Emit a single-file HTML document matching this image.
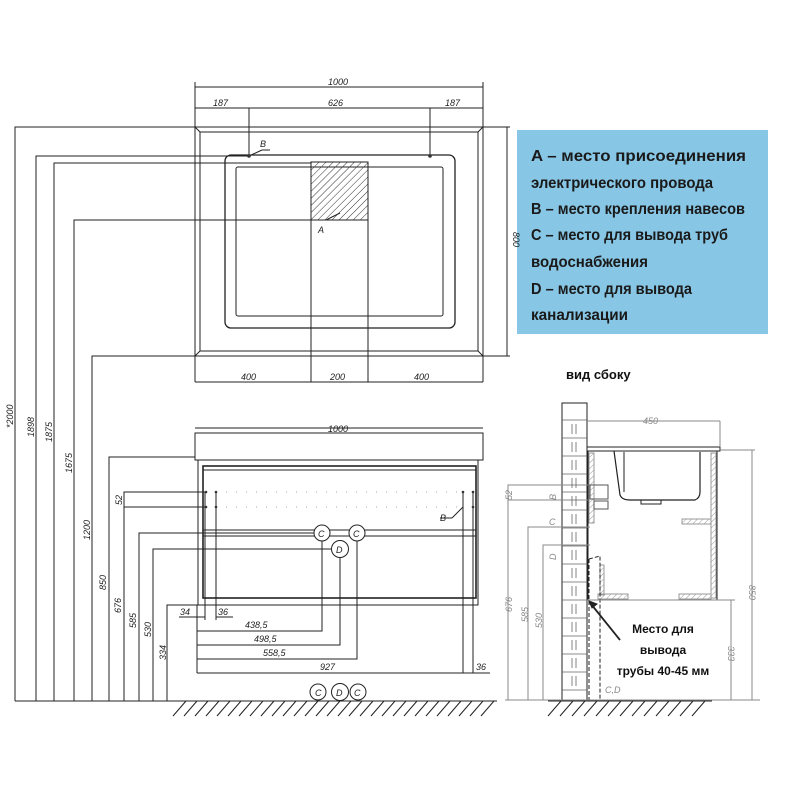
<!DOCTYPE html>
<html><head><meta charset="utf-8"><style>
html,body{margin:0;padding:0;background:#fff}
svg{display:block}
text{font-family:"Liberation Sans",sans-serif}
.d{font-size:9px;font-style:italic;fill:#222}
.b{font-size:16px;font-weight:bold;fill:#1a1a1a}
</style></head><body>
<svg width="792" height="792" viewBox="0 0 792 792" xmlns="http://www.w3.org/2000/svg">
<defs>
<pattern id="h" width="5" height="5" patternUnits="userSpaceOnUse" patternTransform="rotate(45)">
<line x1="0" y1="0" x2="0" y2="5" stroke="#333" stroke-width="1"/></pattern>
<pattern id="h2" width="4" height="4" patternUnits="userSpaceOnUse" patternTransform="rotate(45)">
<line x1="0" y1="0" x2="0" y2="4" stroke="#999" stroke-width="1"/></pattern>
</defs>
<rect width="792" height="792" fill="#fff"/>
<g stroke="#222" stroke-width="1" fill="none">
<rect x="195" y="127" width="288" height="229"/>
<rect x="200" y="132" width="278" height="219"/>
<line x1="195" y1="127" x2="200" y2="132"/><line x1="483" y1="127" x2="478" y2="132"/>
<line x1="195" y1="356" x2="200" y2="351"/><line x1="483" y1="356" x2="478" y2="351"/>
<rect x="225" y="155" width="230" height="173" rx="6" stroke-width="1.3"/>
<rect x="236" y="167" width="207" height="149" rx="2"/>
<rect x="311" y="162" width="57" height="58" fill="url(#h)"/>
<line x1="311" y1="220" x2="311" y2="382"/><line x1="368" y1="220" x2="368" y2="382"/>
<line x1="195" y1="82" x2="195" y2="127"/><line x1="483" y1="82" x2="483" y2="127"/>
<line x1="195" y1="87" x2="483" y2="87"/><line x1="195" y1="108" x2="483" y2="108"/>
<line x1="249" y1="108" x2="249" y2="156"/><line x1="430" y1="108" x2="430" y2="156"/>
<line x1="249" y1="156" x2="262" y2="150"/><line x1="262" y1="150" x2="270" y2="150"/>
<line x1="326" y1="220" x2="340" y2="213"/>
<line x1="195" y1="356" x2="195" y2="382"/><line x1="483" y1="356" x2="483" y2="382"/>
<line x1="195" y1="382" x2="483" y2="382"/>
<line x1="483" y1="127" x2="510" y2="127"/><line x1="483" y1="356" x2="510" y2="356"/>
<line x1="507" y1="127" x2="507" y2="356"/>
<polyline points="15,701 15,127 195,127"/>
<polyline points="36,701 36,156 249,156"/>
<polyline points="54,701 54,163 311,163"/>
<polyline points="74,701 74,220 311,220"/>
<polyline points="92,701 92,356 195,356"/>
<polyline points="109,701 109,457 195,457"/>
<polyline points="124,701 124,492 205,492"/>
<line x1="124" y1="507" x2="205" y2="507"/>
<polyline points="139,701 139,533 314,533"/>
<polyline points="153,701 153,549 332,549"/>
<polyline points="167,701 167,605 198,605"/>
<rect x="195" y="433" width="288" height="27"/>
<line x1="195" y1="428" x2="483" y2="428"/>
<rect x="198" y="460" width="280" height="145"/>
<rect x="203" y="466" width="273" height="132" stroke-width="1.6"/>
<line x1="203" y1="470" x2="476" y2="470"/>
<line x1="203" y1="530" x2="476" y2="530"/><line x1="203" y1="536" x2="476" y2="536"/>
<line x1="205" y1="492" x2="205" y2="620"/><line x1="216" y1="492" x2="216" y2="620"/>
<line x1="463" y1="492" x2="463" y2="673"/><line x1="473" y1="492" x2="473" y2="673"/>
<line x1="463" y1="507" x2="452" y2="518"/><line x1="452" y1="518" x2="440" y2="518"/>
<line x1="179" y1="617" x2="205" y2="617"/><line x1="216" y1="617" x2="233" y2="617"/>
<line x1="197" y1="605" x2="197" y2="673"/>
<polyline points="197,631 322,631 322,541"/>
<polyline points="197,645 340,645 340,557"/>
<polyline points="197,659 357,659 357,541"/>
<line x1="197" y1="673" x2="490" y2="673"/>
<line x1="15" y1="701" x2="497" y2="701"/>
<g fill="#fff"><circle cx="322" cy="533" r="8"/><circle cx="357" cy="533" r="8"/><circle cx="340" cy="549" r="8.5"/>
<circle cx="318" cy="692" r="8"/><circle cx="340" cy="692" r="8.5"/><circle cx="358" cy="692" r="8"/></g>
<rect x="562" y="403" width="25" height="297"/>
<rect x="587" y="447" width="133" height="4"/>
<rect x="588" y="451" width="129" height="149"/>
<rect x="589" y="453" width="5" height="70" fill="url(#h2)" stroke="#999"/>
<rect x="711" y="453" width="5" height="145" fill="url(#h2)" stroke="#999"/>
<rect x="682" y="519" width="29" height="5" fill="url(#h2)" stroke="#999"/>
<rect x="598" y="594" width="30" height="5" fill="url(#h2)" stroke="#999"/>
<rect x="679" y="594" width="32" height="5" fill="url(#h2)" stroke="#999"/>
<rect x="600" y="565" width="4" height="30" fill="url(#h2)" stroke="#999"/>
<path d="M614 451 L620 495 Q622 500 630 500 L695 500 Q700 498 700 492 L700 452" stroke-width="1.2"/>
<line x1="624" y1="452" x2="624" y2="492"/>
<rect x="641" y="500" width="20" height="4"/>
<rect x="590" y="485" width="18" height="14" stroke="#555"/>
<rect x="594" y="501" width="14" height="8" stroke="#555"/>
<path d="M589 559 L600 556 L600 700" stroke-dasharray="4 2"/>
<line x1="589" y1="559" x2="589" y2="700" stroke-dasharray="4 2"/>
<line x1="587" y1="600" x2="735" y2="600" stroke="#888"/>
<line x1="587" y1="421" x2="720" y2="421" stroke="#888"/>
<line x1="720" y1="421" x2="720" y2="447" stroke="#888"/>
<line x1="720" y1="450" x2="755" y2="450" stroke="#888"/>
<line x1="752" y1="450" x2="752" y2="700" stroke="#888"/>
<line x1="731" y1="600" x2="731" y2="700" stroke="#888"/>
<g stroke="#888">
<polyline points="508,700 508,485 588,485"/><line x1="508" y1="500" x2="588" y2="500"/>
<polyline points="528,700 528,527 590,527"/>
<polyline points="543,700 543,545 590,545"/>
<line x1="505" y1="700" x2="760" y2="700"/>
</g>
<line x1="620" y1="640" x2="591" y2="604" stroke-width="1.8"/>
<path d="M589 601 L597 604 L592 608 Z" fill="#222"/>
</g>
<g stroke="#666" stroke-width="0.8" fill="none">
<path d="M562 420h25M562 438h25M562 456h25M562 474h25M562 492h25M562 510h25M562 528h25M562 546h25M562 564h25M562 582h25M562 600h25M562 618h25M562 636h25M562 654h25M562 672h25M562 690h25"/>
<path d="M572 424v10M576 424v10M572 442v10M576 442v10M572 460v10M576 460v10M572 478v10M576 478v10M572 496v10M576 496v10M572 514v10M576 514v10M572 532v10M576 532v10M572 550v10M576 550v10M572 568v10M576 568v10M572 586v10M576 586v10M572 604v10M576 604v10M572 622v10M576 622v10M572 640v10M576 640v10M572 658v10M576 658v10M572 676v10M576 676v10"/>
</g>
<g fill="#333">
<circle cx="206" cy="492" r="1.3"/><circle cx="216" cy="492" r="1.3"/><circle cx="463" cy="492" r="1.3"/><circle cx="473" cy="492" r="1.3"/>
<circle cx="206" cy="507" r="1.3"/><circle cx="216" cy="507" r="1.3"/><circle cx="473" cy="507" r="1.3"/>
<circle cx="249" cy="156" r="1.8"/><circle cx="430" cy="156" r="1.8"/>
</g>
<g stroke="#bbb" stroke-dasharray="1 9" stroke-width="1.3"><line x1="226" y1="492" x2="460" y2="492"/><line x1="226" y1="507" x2="460" y2="507"/></g>
<g stroke="#222" stroke-width="1">
<path d="M173 716l13-15M184 716l13-15M195 716l13-15M206 716l13-15M217 716l13-15M228 716l13-15M239 716l13-15M250 716l13-15M261 716l13-15M272 716l13-15M283 716l13-15M294 716l13-15M305 716l13-15M316 716l13-15M327 716l13-15M338 716l13-15M349 716l13-15M360 716l13-15M371 716l13-15M382 716l13-15M393 716l13-15M404 716l13-15M415 716l13-15M426 716l13-15M437 716l13-15M448 716l13-15M459 716l13-15M470 716l13-15M481 716l13-15"/>
<path d="M548 716l13-15M560 716l13-15M572 716l13-15M584 716l13-15M596 716l13-15M608 716l13-15M620 716l13-15M632 716l13-15M644 716l13-15M656 716l13-15M668 716l13-15M680 716l13-15M692 716l13-15"/>
<line x1="548" y1="701" x2="712" y2="701"/>
</g>
<rect x="517" y="130" width="251" height="204" fill="#87c6e5"/>
<text class="b" x="531" y="161" textLength="215" lengthAdjust="spacingAndGlyphs">A – место присоединения</text>
<text class="b" x="531" y="188" textLength="182" lengthAdjust="spacingAndGlyphs">электрического провода</text>
<text class="b" x="531" y="214" textLength="214" lengthAdjust="spacingAndGlyphs">B – место крепления навесов</text>
<text class="b" x="531" y="240" textLength="197" lengthAdjust="spacingAndGlyphs">C – место для вывода труб</text>
<text class="b" x="531" y="267" textLength="117" lengthAdjust="spacingAndGlyphs">водоснабжения</text>
<text class="b" x="531" y="294" textLength="161" lengthAdjust="spacingAndGlyphs">D – место для вывода</text>
<text class="b" x="531" y="320" textLength="97" lengthAdjust="spacingAndGlyphs">канализации</text>
<g class="d">
<text x="328" y="85">1000</text><text x="213" y="106">187</text><text x="328" y="106">626</text><text x="445" y="106">187</text>
<text x="260" y="147">B</text><text x="318" y="233">A</text>
<text x="241" y="380">400</text><text x="330" y="380">200</text><text x="414" y="380">400</text>
<text x="328" y="432">1000</text>
<text x="440" y="521">B</text>
<text x="180" y="615">34</text><text x="218" y="615">36</text>
<text x="245" y="628">438,5</text><text x="254" y="642">498,5</text><text x="263" y="656">558,5</text>
<text x="320" y="670">927</text><text x="476" y="670">36</text>
<text x="315" y="696">C</text><text x="336" y="696">D</text><text x="354" y="696">C</text>
<text x="318" y="537">C</text><text x="353" y="537">C</text><text x="336" y="553">D</text>
<text transform="translate(513,232) rotate(90)">800</text>
<text transform="translate(13,428) rotate(-90)">*2000</text>
<text transform="translate(34,437) rotate(-90)">1898</text>
<text transform="translate(52,442) rotate(-90)">1875</text>
<text transform="translate(72,473) rotate(-90)">1675</text>
<text transform="translate(90,540) rotate(-90)">1200</text>
<text transform="translate(106,590) rotate(-90)">850</text>
<text transform="translate(122,505) rotate(-90)">52</text>
<text transform="translate(121,613) rotate(-90)">676</text>
<text transform="translate(136,628) rotate(-90)">585</text>
<text transform="translate(151,637) rotate(-90)">530</text>
<text transform="translate(166,660) rotate(-90)">334</text>
</g>
<g class="d" style="fill:#888">
<text x="643" y="424">450</text>
<text transform="translate(512,500) rotate(-90)">52</text>
<text transform="translate(556,500) rotate(-90)">B</text>
<text x="549" y="525">C</text>
<text transform="translate(556,560) rotate(-90)">D</text>
<text transform="translate(512,612) rotate(-90)">676</text>
<text transform="translate(528,622) rotate(-90)">585</text>
<text transform="translate(542,628) rotate(-90)">530</text>
<text transform="translate(749,585) rotate(90)">850</text>
<text transform="translate(728,646) rotate(90)">333</text>
<text x="605" y="693">C,D</text>
</g>
<text x="566" y="379" style="font-size:13px;font-weight:bold;fill:#111">вид сбоку</text>
<g style="font-size:12px;font-weight:bold;fill:#111" text-anchor="middle">
<text x="663" y="633">Место для</text><text x="663" y="654">вывода</text><text x="663" y="675">трубы 40-45 мм</text>
</g>
</svg>
</body></html>
